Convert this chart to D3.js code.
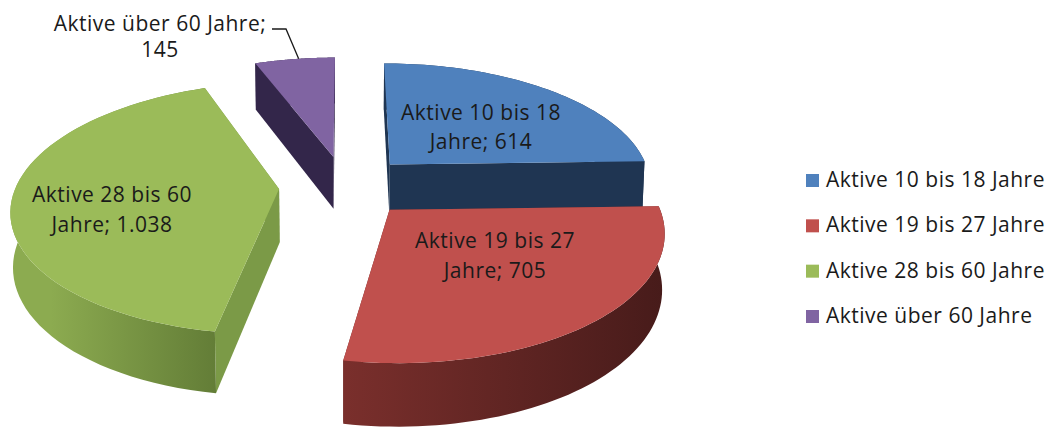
<!DOCTYPE html>
<html>
<head>
<meta charset="utf-8">
<script src="https://d3js.org/d3.v7.min.js"></script>
<style>
  html, body { margin: 0; padding: 0; background: #fff; }
  svg { display: block; }
  text { font-family: "Open Sans", Lato, sans-serif; fill: #1a1a1a; letter-spacing: 0.5px; }
</style>
</head>
<body>
<div id="chart"></div>
<script>
var categories = ["Aktive 10 bis 18 Jahre", "Aktive 19 bis 27 Jahre", "Aktive 28 bis 60 Jahre", "Aktive über 60 Jahre"];
var values = [614, 705, 1038, 145];
var valueLabels = ["614", "705", "1.038", "145"];
var labelHeads = ["Aktive 10 bis 18", "Aktive 19 bis 27", "Aktive 28 bis 60", "Aktive über 60 Jahre;"];
var labelTails = ["Jahre; ", "Jahre; ", "Jahre; ", ""];

var topColors = ["#4f81bd", "#c0504d", "#9bbb59", "#8064a2"];
var cutColors = ["#1f3552", "#6e2c2a", "#7b9a47", "#33264a"];
var wallLeft = ["#1f3552", "#7a2f2c", "#8cab50", "#33264a"];
var wallRight = ["#1f3552", "#471b1a", "#637d37", "#33264a"];

var w = 1050;
var h = 428;

// pie centre on screen and the fake 3d camera
var cx = 345;
var cy = 186;
var radius = 263;
var explode = 66;
var thick = 54;
var tilt = 0.465;
var camera = 1750;
var sink = 0.25;

// label anchors, one per slice
var labelX = [481, 495, 112, 160];
var labelY = [120, 248, 202, 31];
var lineGap = [29, 30, 30, 26];

var svg = d3.select("#chart").append("svg")
  .attr("width", w)
  .attr("height", h);

var defs = svg.append("defs");

var pie = d3.pie().sort(null).value(function(d) { return d; });
var slices = pie(values);

function project(x, y, down) {
  var s = camera / (camera + y + down * sink);
  return [cx + x * s, cy + (-y * tilt + down) * s];
}

// point on a slice in ground coordinates, angle clockwise from top
function ground(slice, angle, r) {
  var mid = (slice.startAngle + slice.endAngle) / 2;
  return [
    explode * Math.sin(mid) + r * Math.sin(angle),
    explode * Math.cos(mid) + r * Math.cos(angle)
  ];
}

function arcAngles(slice) {
  return d3.range(0, 61).map(function(i) {
    return slice.startAngle + (slice.endAngle - slice.startAngle) * i / 60;
  });
}

var line = d3.line();

function drawCut(g, slice, angle, color) {
  var a = ground(slice, 0, 0);
  var b = ground(slice, angle, radius);
  g.append("path")
    .attr("d", line([project(a[0], a[1], 0), project(b[0], b[1], 0), project(b[0], b[1], thick), project(a[0], a[1], thick)]) + "Z")
    .attr("fill", color);
}

// back to front: purple, green, blue, red
var order = [3, 2, 0, 1];

order.forEach(function(i) {
  var slice = slices[i];
  var g = svg.append("g").attr("class", "slice");
  var angles = arcAngles(slice);

  var topArc = angles.map(function(a) {
    var p = ground(slice, a, radius);
    return project(p[0], p[1], 0);
  });
  var lowArc = angles.map(function(a) {
    var p = ground(slice, a, radius);
    return project(p[0], p[1], thick);
  });

  var gradId = "wall" + i;
  var xs = d3.extent(topArc.concat(lowArc), function(p) { return p[0]; });
  var grad = defs.append("linearGradient")
    .attr("id", gradId)
    .attr("gradientUnits", "userSpaceOnUse")
    .attr("x1", i === 2 ? xs[0] + 40 : xs[0])
    .attr("x2", xs[1])
    .attr("y1", 0)
    .attr("y2", 0);
  grad.append("stop").attr("offset", 0).attr("stop-color", wallLeft[i]);
  grad.append("stop").attr("offset", 1).attr("stop-color", wallRight[i]);

  // the cut face nearer the back goes first
  var cuts = i === 2 ? [slice.endAngle, slice.startAngle] : [slice.startAngle, slice.endAngle];
  cuts.forEach(function(a) { drawCut(g, slice, a, cutColors[i]); });

  g.append("path")
    .attr("d", line(topArc.concat(lowArc.slice().reverse())) + "Z")
    .attr("fill", "url(#" + gradId + ")");

  var apex = ground(slice, 0, 0);
  g.append("path")
    .attr("d", line([project(apex[0], apex[1], 0)].concat(topArc)) + "Z")
    .attr("fill", topColors[i]);
});

// data labels
slices.forEach(function(slice, i) {
  var t = svg.append("text")
    .attr("text-anchor", "middle")
    .style("font-size", "21px");
  t.append("tspan")
    .attr("x", labelX[i])
    .attr("y", labelY[i])
    .text(labelHeads[i]);
  t.append("tspan")
    .attr("x", labelX[i])
    .attr("y", labelY[i] + lineGap[i])
    .text(labelTails[i] + valueLabels[i]);
});

// leader line for the small slice
var topOfPurple = ground(slices[3], slices[3].startAngle + 0.2, radius);
var leaderEnd = project(topOfPurple[0], topOfPurple[1], 0);
svg.append("path")
  .attr("d", d3.line()([[272, 29], [286, 29], leaderEnd]))
  .attr("fill", "none")
  .attr("stroke", "#1a1a1a")
  .attr("stroke-width", 1.3);

// legend
var legendY = d3.scalePoint().domain(categories).range([180.5, 316.5]);

var legend = svg.selectAll(".legendItem")
  .data(categories)
  .enter()
  .append("g")
  .attr("class", "legendItem")
  .attr("transform", function(d) { return "translate(806," + legendY(d) + ")"; });

legend.append("rect")
  .attr("y", -6.5)
  .attr("width", 13)
  .attr("height", 13)
  .attr("fill", function(d, i) { return topColors[i]; });

legend.append("text")
  .attr("x", 20)
  .attr("y", 6.5)
  .style("font-size", "21px")
  .text(function(d) { return d; });
</script>
</body>
</html>
